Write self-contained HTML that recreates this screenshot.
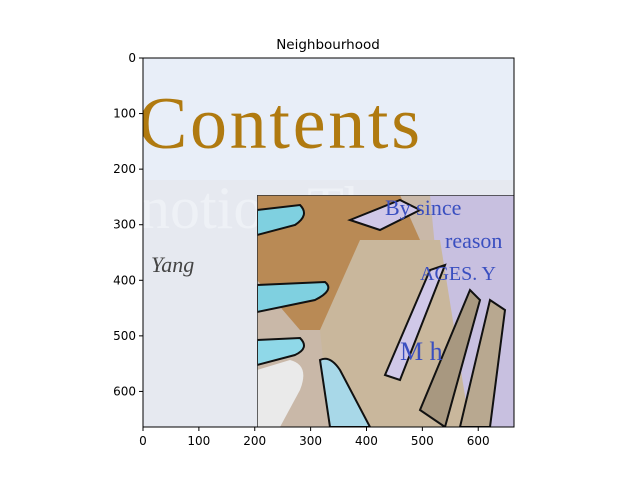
<!DOCTYPE html>
<html><head><meta charset="utf-8"><style>
body{margin:0;background:#fff;}
svg{display:block;font-family:"DejaVu Sans","Liberation Sans",sans-serif;}
</style></head><body>
<svg id="chart" width="640" height="480">
<defs>
<clipPath id="ax"><rect x="143" y="58" width="371" height="369"/></clipPath>
<clipPath id="inset"><rect x="257" y="195" width="257" height="232"/></clipPath>
</defs>
<text x="328" y="49" text-anchor="middle" font-size="13.5">Neighbourhood</text>
<g clip-path="url(#ax)">
 <rect x="143" y="58" width="371" height="369" fill="#e8eef8"/>
 <rect x="143" y="180" width="371" height="247" fill="#e6e9f0"/>
 <text x="138" y="148" font-family="Liberation Serif,serif" font-size="74" fill="#b07a10" textLength="282">Contents</text>
 <text x="140" y="228" font-family="Liberation Serif,serif" font-size="60" fill="#eef1f6">notion  Th</text>
 <text x="151" y="272" font-family="Liberation Serif,serif" font-style="italic" font-size="22" fill="#444">Yang</text>
 <g clip-path="url(#inset)">
  <rect x="257" y="195" width="257" height="232" fill="#c9b8a8"/>
  <polygon points="257,195 400,195 420,240 360,330 300,330 257,280" fill="#b98a55"/>
  <polygon points="430,195 514,195 514,427 470,427 440,300" fill="#c8c0e0"/>
  <polygon points="360,240 440,240 470,427 330,427 320,330" fill="#c9b79c"/>
  <path d="M257,210 L300,205 Q310,215 295,225 L257,235 Z" fill="#7fd0e0" stroke="#111" stroke-width="2"/>
  <path d="M257,285 L325,282 Q335,290 315,300 L257,312 Z" fill="#7fd0e0" stroke="#111" stroke-width="2"/>
  <path d="M257,340 L300,338 Q310,348 295,355 L257,365 Z" fill="#8fd8e8" stroke="#111" stroke-width="2"/>
  <path d="M257,370 L290,360 Q310,365 300,390 L280,427 L257,427 Z" fill="#eaeaea"/>
  <path d="M320,360 Q330,355 340,370 L370,427 L330,427 Z" fill="#a8d8e8" stroke="#111" stroke-width="2"/>
  <path d="M350,220 L400,200 L420,210 L380,230 Z" fill="#d0c8e8" stroke="#111" stroke-width="2"/>
  <path d="M385,375 L430,270 L445,265 L400,380 Z" fill="#d0c8e8" stroke="#111" stroke-width="2"/>
  <path d="M420,410 L470,290 L480,300 L445,427 Z" fill="#a89880" stroke="#111" stroke-width="2"/>
  <path d="M460,427 L490,300 L505,310 L490,427 Z" fill="#b8a890" stroke="#111" stroke-width="2"/>
  <text x="385" y="215" font-family="Liberation Serif,serif" font-size="22" fill="#3a4fc0">By since</text>
  <text x="445" y="248" font-family="Liberation Serif,serif" font-size="22" fill="#3a4fc0">reason</text>
  <text x="420" y="280" font-family="Liberation Serif,serif" font-size="20" fill="#3a4fc0">AGES. Y</text>
  <text x="400" y="360" font-family="Liberation Serif,serif" font-size="26" fill="#3a4fc0">M  h</text>
  <line x1="257" y1="195" x2="514" y2="195" stroke="#333" stroke-width="1.5"/>
  <line x1="257" y1="195" x2="257" y2="427" stroke="#333" stroke-width="1.5"/>
 </g>
</g>
<rect x="143" y="58" width="371" height="369" fill="none" stroke="#000" stroke-width="1"/>
<g id="xt"></g>
<g id="yt"></g>
</svg>
<script>
const xTicks=[0,100,200,300,400,500,600];
const yTicks=[0,100,200,300,400,500,600];
const imgExtent=[0,664];
const X0=143,X1=514,Y0=58,Y1=427;
const sx=v=>X0+(v-imgExtent[0])/(imgExtent[1]-imgExtent[0])*(X1-X0);
const sy=v=>Y0+(v-imgExtent[0])/(imgExtent[1]-imgExtent[0])*(Y1-Y0);
const ns="http://www.w3.org/2000/svg";
const xg=document.getElementById('xt'),yg=document.getElementById('yt');
xTicks.forEach(t=>{
 const l=document.createElementNS(ns,'line');
 
 
 l.setAttribute('x1',sx(t));l.setAttribute('x2',sx(t));l.setAttribute('y1',Y1);l.setAttribute('y2',Y1+4);l.setAttribute('stroke','#000');
 xg.appendChild(l);
 const tx=document.createElementNS(ns,'text');
 
 
 tx.setAttribute('x',sx(t));tx.setAttribute('y',Y1+18);tx.setAttribute('text-anchor','middle');tx.setAttribute('font-size','12');
 tx.textContent=t;xg.appendChild(tx);
});
yTicks.forEach(t=>{
 const l=document.createElementNS(ns,'line');
 
 
 l.setAttribute('x1',X0-4);l.setAttribute('x2',X0);l.setAttribute('y1',sy(t));l.setAttribute('y2',sy(t));l.setAttribute('stroke','#000');
 yg.appendChild(l);
 const tx=document.createElementNS(ns,'text');
 
 
 tx.setAttribute('x',X0-7);tx.setAttribute('y',sy(t)+4);tx.setAttribute('text-anchor','end');tx.setAttribute('font-size','12');
 tx.textContent=t;yg.appendChild(tx);
});
</script>
</body></html>
